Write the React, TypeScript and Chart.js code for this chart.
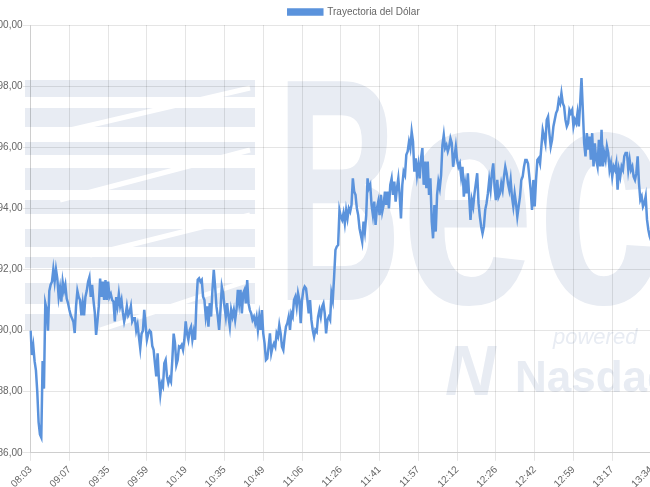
import React, { useEffect, useRef } from 'react';
import { Chart, registerables } from 'chart.js';

Chart.register(...registerables);

const seriesName = 'Trayectoria del Dólar';

const tickLabels = [
  '08:03', '09:07', '09:35', '09:59', '10:19', '10:35', '10:49', '11:06', '11:26',
  '11:41', '11:57', '12:12', '12:26', '12:42', '12:59', '13:17', '13:34',
];

// one labelled trade every TICK_EVERY trades
const TICK_EVERY = 29;

const seg1 = [
  890.0, 889.2, 889.5, 889.0, 888.7, 888.0, 887.0, 886.6, 886.5, 889.0,
  888.1, 890.9, 890.7, 890.0, 891.3, 891.5, 891.6, 892.0, 891.6, 892.0,
  891.7, 891.1, 891.4, 890.95, 891.6, 891.3, 891.5, 891.05, 890.9, 890.68,
  890.5, 890.4, 890.29, 889.92, 890.8, 891.3, 891.1, 891.0, 890.5, 890.9,
  890.5, 891.1, 891.3, 891.6, 891.75, 891.1, 891.5, 891.0, 890.6, 889.86,
  890.3, 890.8, 891.7, 891.1, 891.6, 891.0, 891.65, 891.0, 891.6, 891.1,
  891.2, 891.0, 890.95, 890.3, 891.1, 890.8, 891.2, 890.8, 891.0, 890.6,
  890.3, 890.5, 890.8, 890.5, 890.6, 890.8, 890.3, 890.4, 890.4, 890.0,
];

const seg2 = [
  890.19, 889.8, 889.42, 889.9, 890.0, 890.68, 890.19, 889.7, 889.9, 890.0,
  889.95, 889.5, 889.37, 888.93, 888.5, 889.26, 888.39, 887.9, 888.28, 888.17,
  888.93, 889.04, 888.5, 888.28, 888.44, 888.33, 889.04, 889.9, 889.59, 888.88,
  889.04, 889.48, 889.45, 889.53, 889.37, 889.7, 890.3, 889.9, 889.7, 890.02,
  890.13, 889.7, 889.97, 889.7, 890.9, 891.66, 891.71, 891.6, 891.66, 891.11,
  891.0, 890.46, 890.79, 890.13, 890.9, 890.46, 891.33, 891.99, 891.44, 890.79,
  890.46, 890.02, 890.68, 891.44, 891.22, 890.79, 890.46, 890.9, 890.46, 890.13,
  890.68, 890.46, 890.68, 890.35, 890.68, 891.33, 890.9, 891.33,
];

const seg3 = [
  890.56, 891.22, 891.33, 890.89, 891.65, 890.89, 890.67, 890.56, 890.35, 890.45,
  890.24, 890.45, 890.02, 890.45, 890.02, 890.67, 889.91, 889.58, 889.04, 889.09,
  889.47, 889.91, 889.26, 889.47, 889.58, 889.47, 889.91, 889.8, 890.18, 889.91,
  889.47, 889.36, 889.8, 890.13, 890.24, 890.45, 890.02, 890.56, 890.45, 891.0,
  891.11, 890.78, 891.22, 891.0, 890.24, 891.0, 891.33, 891.44, 891.38, 891.0,
  890.56, 891.0, 890.35, 890.02, 889.8, 890.02, 889.96, 890.45, 890.67, 890.45,
  890.78, 890.89, 890.56, 889.91, 890.35, 890.45, 890.35, 891.22, 891.0, 891.76,
  892.64, 892.75, 892.8, 893.94, 893.73, 893.62, 893.84, 893.51, 893.94,
];

const seg4 = [
  893.67, 894.0, 893.89, 894.11, 894.98, 894.55, 894.44, 894.0, 893.78, 893.35,
  893.13, 892.91, 893.57, 893.24, 893.78, 894.98, 894.66, 894.77, 894.11, 893.78,
  894.22, 893.46, 894.0, 894.22, 893.78, 894.44, 893.89, 894.11, 894.55, 894.11,
  894.55, 894.0, 894.77, 894.98, 894.44, 894.88, 894.22, 894.66, 894.98, 894.44,
  893.67, 894.77, 895.2, 895.09, 895.75, 895.86, 896.18, 895.97, 896.51, 896.18,
  895.2, 895.64, 895.09, 895.42, 894.98, 895.64, 895.97, 894.77, 895.53, 894.66,
  895.53, 894.44, 894.98, 893.57, 893.02, 894.11, 893.24, 894.44, 894.88, 894.66,
  895.09, 896.07, 896.4, 895.97, 896.07, 895.86,
];

const seg5 = [
  896.02, 896.29, 896.13, 895.36, 895.69, 896.02, 895.58, 895.36, 895.47, 895.04,
  895.36, 894.38, 894.82, 894.49, 895.15, 894.38, 893.62, 894.27, 894.06, 894.49,
  894.82, 895.15, 894.17, 893.73, 893.4, 893.18, 893.4, 893.95, 894.17, 894.49,
  894.93, 894.6, 895.15, 895.47, 894.71, 894.27, 894.93, 894.38, 894.49, 894.82,
  894.6, 895.04, 895.36, 895.15, 894.82, 894.6, 894.93, 894.38, 894.06, 894.49,
  894.17, 893.73, 894.06, 894.38, 894.93, 895.04, 895.36, 895.58, 895.58, 895.47,
  895.04, 894.6, 893.95, 894.93, 894.06, 894.93, 895.58, 895.64, 895.47, 896.02,
  896.56, 896.35, 896.13, 896.89, 897.0, 896.45, 896.02, 896.24,
];

const seg6 = [
  896.68, 896.9, 897.12, 897.22, 897.55, 897.44, 897.77, 897.44, 897.33, 896.9,
  896.68, 896.79, 897.22, 897.12, 897.22, 896.68, 896.9, 896.79, 897.12, 896.68,
  897.44, 898.26, 897.22, 896.13, 895.7, 896.46, 895.92, 896.35, 895.59, 896.46,
  895.37, 896.13, 895.59, 895.37, 896.24, 895.37, 896.57, 895.37, 895.81, 895.59,
  896.03, 895.81, 895.26, 895.48, 895.04, 895.37, 895.26, 895.48, 894.61, 895.26,
  895.04, 895.37, 895.26, 895.7, 895.81, 895.81, 895.26, 895.59, 895.26, 895.37,
  895.04, 894.93, 895.15, 895.7, 894.82, 894.28, 894.39, 894.06, 894.17, 894.39,
  893.63, 893.3, 893.08, 892.95, 893.1, 892.9,
];

const values = [...seg1, ...seg2, ...seg3, ...seg4, ...seg5, ...seg6];
const labels = values.map((_, i) =>
  i % TICK_EVERY === 0 && tickLabels[i / TICK_EVERY] ? tickLabels[i / TICK_EVERY] : ''
);

const yMin = 886;
const yMax = 900;
const yStep = 2;

const LINE_COLOR = '#5b93dc';
const WM_COLOR = '#e8ecf3';
const FONT = '"Liberation Sans", Arial, Helvetica, sans-serif';

// canvas offset relative to the page
const OFF_X = -8;
const OFF_Y = -3;

const watermarkPlugin = {
  id: 'watermark',
  beforeDraw(chart: any) {
    const ctx: CanvasRenderingContext2D = chart.ctx;
    const px = (x: number) => x - OFF_X;
    const py = (y: number) => y - OFF_Y;
    ctx.save();
    ctx.fillStyle = WM_COLOR;
    const bands = [
      [80, 97], [108, 127], [142, 155], [168, 190], [200, 214],
      [229, 247], [257, 268], [283, 304], [314, 330],
    ];
    bands.forEach(([t, b]) => ctx.fillRect(px(25), py(t), 230, b - t));
    // white slanted cuts
    ctx.strokeStyle = '#ffffff';
    ctx.lineWidth = 5;
    const cuts = [
      [70, 130, 250, 88], [60, 200, 250, 150], [90, 255, 250, 215], [100, 330, 250, 280],
    ];
    cuts.forEach(([x1, y1, x2, y2]) => {
      ctx.beginPath();
      ctx.moveTo(px(x1), py(y1));
      ctx.lineTo(px(x2), py(y2));
      ctx.stroke();
    });
    ctx.fillStyle = WM_COLOR;
    ctx.textBaseline = 'alphabetic';
    ctx.font = `bold 318px ${FONT}`;
    const letters: [string, number, number, number][] = [
      ['B', 276, 126, 300],
      ['e', 400, 135, 303],
      ['c', 537, 128, 303],
    ];
    letters.forEach(([ch, x, w, base]) => {
      const m = ctx.measureText(ch).width;
      ctx.save();
      ctx.translate(px(x), py(base));
      ctx.scale(w / m, 1);
      ctx.fillText(ch, 0, 0);
      ctx.restore();
    });
    ctx.font = `italic 22px ${FONT}`;
    ctx.fillText('powered', px(553), py(344));
    ctx.font = `bold italic 70px ${FONT}`;
    ctx.fillText('N', px(445), py(395));
    ctx.font = `bold 44px ${FONT}`;
    ctx.fillText('Nasdaq', px(515), py(392));
    ctx.restore();
  },
};

const legendFitPlugin = {
  id: 'legendFit',
  beforeLayout(chart: any) {
    const lg = chart.legend;
    if (lg && !lg._fitWrapped) {
      const orig = lg.fit;
      lg.fit = function () {
        orig.call(this);
        this.height -= 2;
      };
      lg._fitWrapped = true;
    }
  },
};

export default function App() {
  const canvasRef = useRef<HTMLCanvasElement | null>(null);

  useEffect(() => {
    if (!canvasRef.current) return;
    Chart.defaults.font.family = FONT;
    Chart.defaults.font.size = 10;
    Chart.defaults.color = '#666';
    const chart = new Chart(canvasRef.current, {
      type: 'line',
      data: {
        labels,
        datasets: [
          {
            label: seriesName,
            data: values,
            borderColor: LINE_COLOR,
            backgroundColor: LINE_COLOR,
            borderWidth: 2.5,
            pointRadius: 0,
            tension: 0,
            fill: false,
            xAxisID: 'x',
            yAxisID: 'y',
          },
        ],
      },
      options: {
        responsive: true,
        maintainAspectRatio: false,
        animation: false,
        layout: { padding: 0 },
        plugins: {
          legend: {
            display: true,
            position: 'top',
            labels: { boxWidth: 34, boxHeight: 5, padding: 10, color: '#666', font: { size: 10 } },
          },
          tooltip: { enabled: false },
        },
        scales: {
          x: {
            type: 'category',
            afterBuildTicks: (scale: any) => {
              scale.ticks = scale.ticks.filter((t: any) => labels[t.value] !== '');
            },
            ticks: { autoSkip: false, minRotation: 45, maxRotation: 45, color: '#666', font: { size: 10 } },
            grid: { color: 'rgba(0,0,0,0.1)' },
          },
          y: {
            type: 'linear',
            position: 'left',
            min: yMin,
            max: yMax,
            ticks: {
              stepSize: yStep,
              padding: 0,
              color: '#666',
              font: { size: 10 },
              callback: (v: any) => Number(v).toFixed(2).replace('.', ','),
            },
            grid: { color: 'rgba(0,0,0,0.1)' },
          },
          pad: {
            type: 'linear',
            position: 'right',
            grid: { display: false },
            border: { display: false },
            ticks: { display: false },
            afterFit: (scale: any) => {
              scale.width = 62.3;
            },
          },
        },
      } as any,
      plugins: [watermarkPlugin, legendFitPlugin],
    });
    return () => chart.destroy();
  }, []);

  return (
    <div
      style={{
        position: 'fixed',
        left: OFF_X,
        top: OFF_Y,
        width: 724,
        height: 496,
        background: '#ffffff',
      }}
    >
      <canvas ref={canvasRef} />
    </div>
  );
}
